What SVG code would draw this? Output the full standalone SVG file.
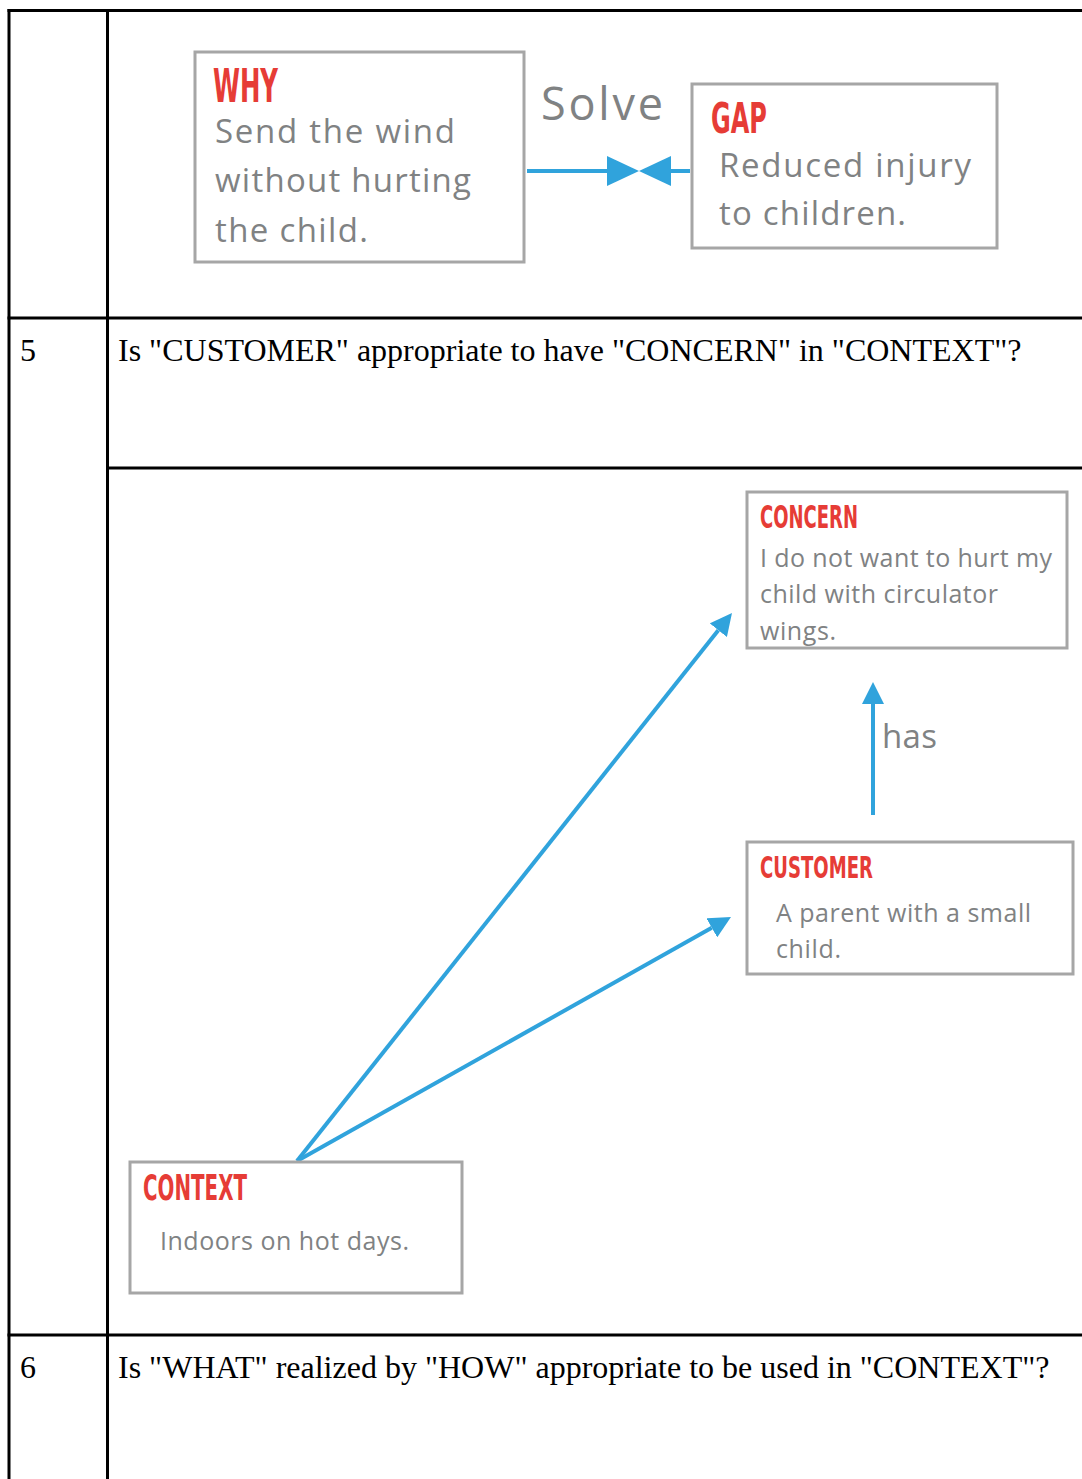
<svg xmlns="http://www.w3.org/2000/svg" width="1082" height="1479" viewBox="0 0 1082 1479">
  <style>
    .grid { stroke: #000; stroke-width: 3; fill: none; }
    .cell { font-family: "Liberation Serif", "Times New Roman", serif; font-size: 32px; fill: #000; }
    .box { fill: #fff; stroke: #a6a6a6; stroke-width: 3; }
    .head { font-family: "DejaVu Sans Condensed", "Liberation Sans", sans-serif; font-weight: bold; fill: #e63c36; }
    .body { font-family: "Open Sans", "Noto Sans", sans-serif; fill: #808283; }
    .link { stroke: #30a3dc; stroke-width: 4; fill: none; }
  </style>
  <defs>
    <marker id="tipBig" viewBox="0 0 32 30" refX="0" refY="15" markerWidth="32" markerHeight="30" markerUnits="userSpaceOnUse" orient="auto">
      <path d="M0,0 L32,15 L0,30 Z" fill="#30a3dc"/>
    </marker>
    <marker id="tip" viewBox="0 0 22 22" refX="0" refY="11" markerWidth="22" markerHeight="22" markerUnits="userSpaceOnUse" orient="auto">
      <path d="M0,0 L22,11 L0,22 Z" fill="#30a3dc"/>
    </marker>
  </defs>

  <!-- table rules -->
  <g id="table">
    <line class="grid" x1="9" y1="9" x2="9" y2="1479"/>
    <line class="grid" x1="107.5" y1="9" x2="107.5" y2="1479"/>
    <line class="grid" x1="7.5" y1="10.5" x2="1082" y2="10.5"/>
    <line class="grid" x1="7.5" y1="318" x2="1082" y2="318"/>
    <line class="grid" x1="107" y1="468" x2="1082" y2="468"/>
    <line class="grid" x1="7.5" y1="1335" x2="1082" y2="1335"/>
    <text class="cell" x="20" y="361">5</text>
    <text class="cell" x="118" y="361">Is "CUSTOMER" appropriate to have "CONCERN" in "CONTEXT"?</text>
    <text class="cell" x="20" y="1378">6</text>
    <text class="cell" x="118" y="1378">Is "WHAT" realized by "HOW" appropriate to be used in "CONTEXT"?</text>
  </g>

  <!-- connectors -->
  <g id="connectors">
    <line class="link" x1="527" y1="171" x2="607" y2="171" stroke-width="5" marker-end="url(#tipBig)"/>
    <line class="link" x1="690" y1="171" x2="671" y2="171" stroke-width="5" marker-end="url(#tipBig)"/>
    <text class="body" x="541" y="120" font-size="45" textLength="122">Solve</text>
    <line class="link" x1="297" y1="1161" x2="718.3" y2="630.2" marker-end="url(#tip)"/>
    <line class="link" x1="297" y1="1161" x2="711.8" y2="927.8" marker-end="url(#tip)"/>
    <line class="link" x1="873" y1="815" x2="873" y2="704" stroke-width="5" marker-end="url(#tip)"/>
    <text class="body" x="882" y="748" font-size="33" textLength="55">has</text>
  </g>

  <!-- WHY node -->
  <g id="why">
    <rect class="box" x="195" y="52" width="329" height="210"/>
    <text class="head" x="213" y="102" font-size="47" textLength="65" lengthAdjust="spacingAndGlyphs">WHY</text>
    <text class="body" x="215" y="143" font-size="33" textLength="240">Send the wind</text>
    <text class="body" x="215" y="192" font-size="33" textLength="256">without hurting</text>
    <text class="body" x="215" y="242" font-size="33" textLength="153">the child.</text>
  </g>

  <!-- GAP node -->
  <g id="gap">
    <rect class="box" x="692" y="84" width="305" height="164"/>
    <text class="head" x="711" y="133" font-size="42" textLength="56" lengthAdjust="spacingAndGlyphs">GAP</text>
    <text class="body" x="719" y="177" font-size="33" textLength="252">Reduced injury</text>
    <text class="body" x="719" y="225" font-size="33" textLength="187">to children.</text>
  </g>

  <!-- CONCERN node -->
  <g id="concern">
    <rect class="box" x="747" y="492" width="320" height="156"/>
    <text class="head" x="760" y="528" font-size="32" textLength="98" lengthAdjust="spacingAndGlyphs">CONCERN</text>
    <text class="body" x="760" y="567" font-size="25" textLength="292">I do not want to hurt my</text>
    <text class="body" x="760" y="603" font-size="25" textLength="238">child with circulator</text>
    <text class="body" x="760" y="640" font-size="25" textLength="76">wings.</text>
  </g>

  <!-- CUSTOMER node -->
  <g id="customer">
    <rect class="box" x="747" y="842" width="326" height="132"/>
    <text class="head" x="760" y="878" font-size="30" textLength="113" lengthAdjust="spacingAndGlyphs">CUSTOMER</text>
    <text class="body" x="776" y="922" font-size="25" textLength="255">A parent with a small</text>
    <text class="body" x="776" y="958" font-size="25" textLength="65">child.</text>
  </g>

  <!-- CONTEXT node -->
  <g id="context">
    <rect class="box" x="130" y="1162" width="332" height="131"/>
    <text class="head" x="143" y="1200" font-size="35" textLength="104" lengthAdjust="spacingAndGlyphs">CONTEXT</text>
    <text class="body" x="160" y="1250" font-size="25" textLength="249">Indoors on hot days.</text>
  </g>
</svg>
